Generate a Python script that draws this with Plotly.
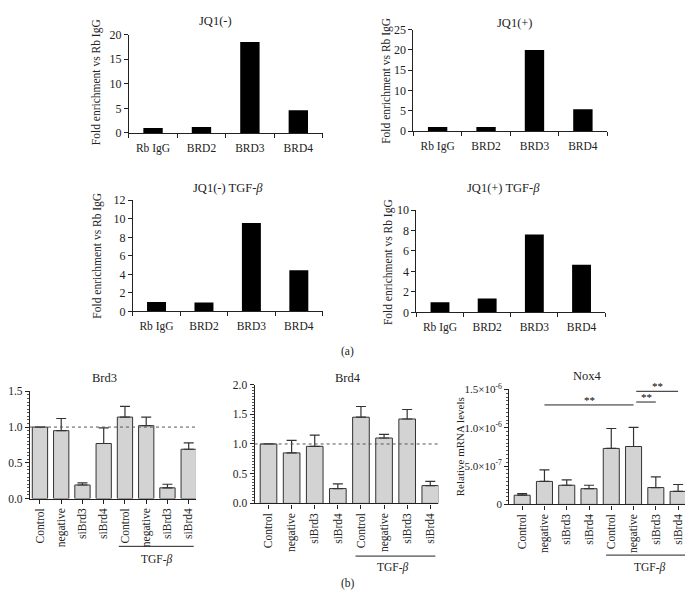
import plotly.graph_objects as go

W, H = 695, 613
OFF = 8  # browser body margin
FW, FH = W - 2 * OFF, H - 2 * OFF
FONT = "Liberation Serif"

# ---------------- data ----------------
chip_cats = ["Rb IgG", "BRD2", "BRD3", "BRD4"]
jq1_minus = [1.0, 1.2, 18.5, 4.6]
jq1_plus = [1.0, 1.0, 20.0, 5.4]
jq1_minus_tgf = [1.0, 0.95, 9.55, 4.45]
jq1_plus_tgf = [1.0, 1.35, 7.6, 4.65]

si_cats = ["Control", "negative", "siBrd3", "siBrd4",
           "Control ", "negative ", "siBrd3 ", "siBrd4 "]
si_labels = ["Control", "negative", "siBrd3", "siBrd4",
             "Control", "negative", "siBrd3", "siBrd4"]
brd3_vals = [1.0, 0.95, 0.19, 0.77, 1.14, 1.02, 0.15, 0.69]
brd3_err = [0.0, 0.17, 0.03, 0.22, 0.15, 0.12, 0.05, 0.09]
brd4_vals = [1.0, 0.85, 0.96, 0.25, 1.45, 1.10, 1.42, 0.30]
brd4_err = [0.0, 0.21, 0.19, 0.08, 0.18, 0.06, 0.16, 0.07]
nox4_vals = [1.2e-7, 3.0e-7, 2.5e-7, 2.05e-7, 7.3e-7, 7.55e-7, 2.2e-7, 1.7e-7]
nox4_err = [0.2e-7, 1.5e-7, 0.7e-7, 0.45e-7, 2.6e-7, 2.5e-7, 1.4e-7, 0.9e-7]
nox4_ticks = [0, 5e-7, 1e-6, 1.5e-6]
nox4_ticktext = ["0", "5.0×10<sup>-7</sup>", "1.0×10<sup>-6</sup>", "1.5×10<sup>-6</sup>"]

# ---------------- layout helpers ----------------
def dx(px):
    return (px - OFF) / FW

def dy(py):
    return 1 - (py - OFF) / FH

fig = go.Figure()

panels = {
    1: dict(x=(128, 322), y=(27, 128)),
    2: dict(x=(413, 607), y=(22, 126)),
    3: dict(x=(132, 322), y=(197, 311)),
    4: dict(x=(416, 605), y=(207, 312)),
    5: dict(x=(29, 195), y=(393, 503)),
    6: dict(x=(254, 438), y=(386, 508)),
    7: dict(x=(509, 685), y=(391, 509)),
}

def axname(i, a):
    return a if i == 1 else f"{a}{i}"

layout = dict(
    width=FW, height=FH,
    margin=dict(l=0, r=0, t=0, b=0),
    paper_bgcolor="white", plot_bgcolor="white",
    showlegend=False,
    font=dict(family=FONT, size=11, color="#222"),
)

# top ChIP panels
top = [(1, jq1_minus, 20, 5), (2, jq1_plus, 25, 5), (3, jq1_minus_tgf, 12, 2), (4, jq1_plus_tgf, 10, 2)]
for i, vals, ymax, dt in top:
    fig.add_trace(go.Bar(x=chip_cats, y=vals, width=0.4,
                         marker=dict(color="black", line=dict(width=0)),
                         xaxis=axname(i, "x"), yaxis=axname(i, "y")))
    p = panels[i]
    layout[axname(i, "xaxis")] = dict(
        domain=[dx(p["x"][0]), dx(p["x"][1])], anchor=axname(i, "y"),
        type="category", range=[-0.5, 3.5], tickson="boundaries",
        ticks="outside", ticklen=4, tickcolor="#222", ticklabelstandoff=4,
        showline=True, linecolor="#222", linewidth=1, showgrid=False,
        tickfont=dict(size=11.5, family=FONT))
    layout[axname(i, "yaxis")] = dict(
        domain=[dy(p["y"][1]), dy(p["y"][0])], anchor=axname(i, "x"),
        range=[0, ymax], dtick=dt, ticks="outside", ticklen=4, tickcolor="#222",
        showline=True, linecolor="#222", linewidth=1, showgrid=False, zeroline=False,
        tickfont=dict(size=12, family=FONT))

# bottom qPCR panels
bottom = [
    (5, brd3_vals, brd3_err, [0, 1.5], 0.5, 0.05, [-0.47, 7.33]),
    (6, brd4_vals, brd4_err, [0, 2.0], 0.5, 0.05, [-0.6, 7.35]),
    (7, nox4_vals, nox4_err, [0, 1.5e-6], 5e-7, 5e-8, [-0.58, 7.31]),
]
for i, vals, err, yr, dt, mdt, xr in bottom:
    fig.add_trace(go.Bar(x=si_cats, y=vals, width=0.72,
                         marker=dict(color="#d3d3d3", line=dict(color="#333", width=1)),
                         error_y=dict(type="data", symmetric=False, array=err,
                                      arrayminus=[0] * len(err), color="#333",
                                      thickness=1.2, width=5),
                         xaxis=axname(i, "x"), yaxis=axname(i, "y")))
    p = panels[i]
    layout[axname(i, "xaxis")] = dict(
        domain=[dx(p["x"][0]), dx(p["x"][1])], anchor=axname(i, "y"),
        type="category", range=xr, tickangle=-90,
        tickvals=si_cats, ticktext=si_labels,
        ticks="outside", ticklen=4, tickcolor="#222",
        showline=True, linecolor="#222", linewidth=1.2, showgrid=False,
        tickfont=dict(size=11.5, family=FONT))
    yax = dict(
        domain=[dy(p["y"][1]), dy(p["y"][0])], anchor=axname(i, "x"),
        range=yr, dtick=dt, ticks="outside", ticklen=4, tickcolor="#222",
        showline=True, linecolor="#222", linewidth=1.2, showgrid=False, zeroline=False,
        minor=dict(ticks="outside", ticklen=2, dtick=mdt, tickcolor="#555", showgrid=False),
        tickfont=dict(size=11.5, family=FONT))
    if i == 7:
        yax["tickvals"] = nox4_ticks
        yax["ticktext"] = nox4_ticktext
        yax.pop("dtick")
        yax["tickfont"] = dict(size=11, family=FONT)
    else:
        yax["tickformat"] = ".1f"
    layout[axname(i, "yaxis")] = yax

fig.update_layout(**layout)

# dotted reference lines at 1.0
for i in (5, 6):
    fig.add_shape(type="line", xref=f"x{i} domain", yref=f"y{i}", x0=0, x1=1, y0=1, y1=1,
                  line=dict(color="#555", width=1, dash="dot"))

# annotations: titles
def ann(text, x, y, size=11.5, angle=0, xanchor="center", yanchor="middle"):
    fig.add_annotation(text=text, x=dx(x), y=dy(y), xref="paper", yref="paper",
                       showarrow=False, textangle=angle, xanchor=xanchor, yanchor=yanchor,
                       font=dict(family=FONT, size=size, color="#222"))

ann("JQ1(-)", 215, 13, size=12.5)
ann("JQ1(+)", 515, 15, size=12.5)
ann("JQ1(-) TGF-<i>β</i>", 227, 184, size=12.5)
ann("JQ1(+) TGF-<i>β</i>", 503, 184, size=12.5)
ann("Brd3", 104, 379, size=12.5)
ann("Brd4", 347, 379, size=12.5)
ann("Nox4", 587, 377, size=12.5)
ann("(a)", 347, 352)
ann("(b)", 347, 590)

ytitle = "Fold enrichment vs Rb IgG"
ann(ytitle, 95, 76, angle=-90)
ann(ytitle, 386, 74, angle=-90)
ann(ytitle, 97, 254, angle=-90)
ann(ytitle, 388, 260, angle=-90)
ann("Relative mRNA levels", 460, 450, size=11, angle=-90)

# TGF-beta group lines and labels
for x0, x1, yl, xt, yt in [(118, 193, 552, 156, 563), (355, 435, 562, 393, 572), (606, 685, 561, 650, 572)]:
    fig.add_shape(type="line", xref="paper", yref="paper", x0=dx(x0), x1=dx(x1), y0=dy(yl), y1=dy(yl),
                  line=dict(color="#222", width=1))
    ann("TGF-<i>β</i>", xt, yt + 2)

# significance bars in Nox4
sig = [(1, 5, 1.297e-6), (5.12, 6, 1.335e-6), (5.12, 7, 1.475e-6)]
for a, b, yv in sig:
    fig.add_shape(type="line", xref="x7", yref="y7", x0=a, x1=b, y0=yv, y1=yv,
                  line=dict(color="#222", width=1))
for xa, yv in [(3.0, 1.297e-6), (5.56, 1.335e-6), (6.06, 1.475e-6)]:
    fig.add_annotation(text="**", x=xa, y=yv, xref="x7", yref="y7", showarrow=False,
                       yanchor="bottom", yshift=-3, font=dict(family=FONT, size=11, color="black"))

fig.write_html("out.html")
